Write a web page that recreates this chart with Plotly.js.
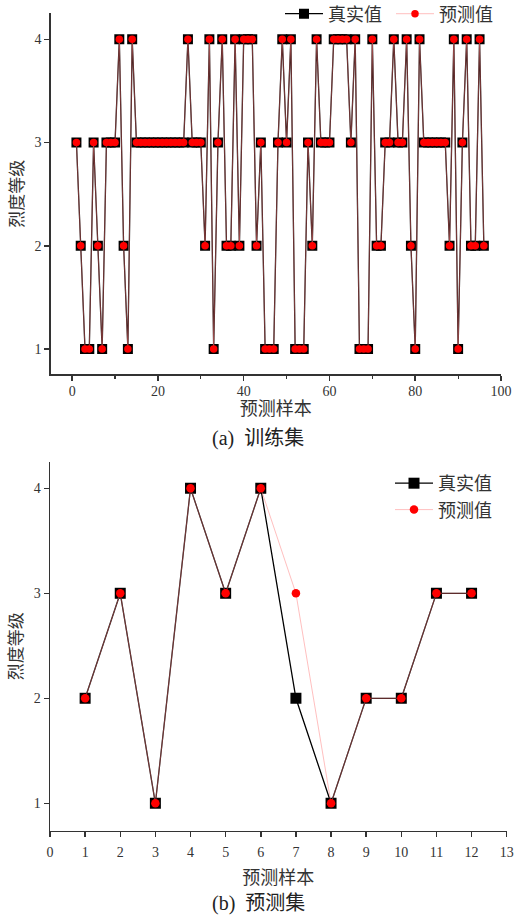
<!DOCTYPE html>
<html>
<head>
<meta charset="utf-8">
<script src="https://cdn.plot.ly/plotly-3.0.1.min.js"></script>
<style>html,body{margin:0;padding:0;background:#fff;}#chart{width:514px;height:915px;}</style>
</head>
<body>
<div id="chart"></div>
<script>
// (a) training set: true values (predictions identical)
const trainTrue = [3,2,1,1,3,2,1,3,3,3,4,2,1,4,3,3,3,3,3,3,3,3,3,3,3,3,4,3,3,3,
  2,4,1,3,4,2,2,4,2,4,4,4,2,3,1,1,1,3,4,3,4,1,1,1,3,2,4,3,3,3,
  4,4,4,4,3,4,1,1,1,4,2,2,3,3,4,3,3,4,2,1,4,3,3,3,3,3,3,2,4,1,
  3,4,2,2,4,2];
const trainPred = trainTrue.slice();
const trainX = trainTrue.map((_, i) => i + 1);

// (b) test set
const testX = [1,2,3,4,5,6,7,8,9,10,11,12];
const testTrue = [2,3,1,4,3,4,2,1,2,2,3,3];
const testPred = [2,3,1,4,3,4,3,1,2,2,3,3];

const nameTrue = '真实值';
const namePred = '预测值';
const xTitle = '预测样本';
const yTitle = '烈度等级';
const capA = '(a)  训练集';
const capB = '(b)  预测集';

const FONT = 'Liberation Serif, "Noto Sans CJK SC", serif';
const TXT = '#333';
const W = 514, H = 915;
const px = v => v / W;
const py = v => 1 - v / H;

const trueStyle = (sz) => ({
  mode: 'lines+markers',
  line: {color: '#000', width: 1.3},
  marker: {symbol: 'square', size: sz, color: '#000'}
});
const predStyle = (sz) => ({
  mode: 'lines+markers',
  line: {color: 'rgba(255,120,120,0.6)', width: 0.8},
  marker: {symbol: 'circle', size: sz, color: '#ff0000'}
});

const traces = [
  Object.assign({x: trainX, y: trainTrue, name: nameTrue, xaxis: 'x', yaxis: 'y', legend: 'legend'}, trueStyle(10)),
  Object.assign({x: trainX, y: trainPred, name: namePred, xaxis: 'x', yaxis: 'y', legend: 'legend'}, predStyle(7.5)),
  Object.assign({x: testX, y: testTrue, name: nameTrue, xaxis: 'x2', yaxis: 'y2', legend: 'legend2'}, trueStyle(11)),
  Object.assign({x: testX, y: testPred, name: namePred, xaxis: 'x2', yaxis: 'y2', legend: 'legend2'}, predStyle(8.5))
];

const axisCommon = {
  showline: true, linecolor: '#333', linewidth: 1.5,
  ticks: 'outside', tickcolor: '#333', tickwidth: 1.5, ticklen: 5,
  showgrid: false, zeroline: false,
  tickfont: {family: FONT, size: 14, color: TXT}
};
const titleFont = {family: FONT, size: 18, color: TXT};
const yTitleFont = {family: FONT, size: 17, color: TXT};

const layout = {
  width: W, height: H,
  margin: {l: 0, r: 0, t: 0, b: 0, autoexpand: false},
  paper_bgcolor: '#fff', plot_bgcolor: 'rgba(0,0,0,0)',
  font: {family: FONT, color: TXT},
  xaxis: Object.assign({}, axisCommon, {
    domain: [px(50.7), px(501)], anchor: 'y',
    range: [-5, 100], tick0: 0, dtick: 20,
    ticklabelstandoff: -2,
    minor: {dtick: 10, ticks: 'outside', ticklen: 3, tickcolor: '#333', tickwidth: 1.2},
    title: {text: xTitle, font: titleFont, standoff: 0}
  }),
  yaxis: Object.assign({}, axisCommon, {
    domain: [py(374.3), py(13)], anchor: 'x',
    range: [0.755, 4.255], tick0: 1, dtick: 1,
    title: {text: yTitle, font: yTitleFont, standoff: 6}
  }),
  xaxis2: Object.assign({}, axisCommon, {
    domain: [px(50), px(506.7)], anchor: 'y2',
    range: [0, 13], tick0: 0, dtick: 1,
    ticklabelstandoff: 3,
    title: {text: xTitle, font: titleFont, standoff: 12}
  }),
  yaxis2: Object.assign({}, axisCommon, {
    domain: [py(830.7), py(461.7)], anchor: 'x2',
    range: [0.739, 4.253], tick0: 1, dtick: 1,
    title: {text: yTitle, font: yTitleFont, standoff: 6}
  }),
  legend: {
    orientation: 'h', x: px(280), y: py(14), xanchor: 'left', yanchor: 'middle',
    bgcolor: 'rgba(0,0,0,0)', font: {family: FONT, size: 18, color: TXT},
    itemwidth: 38, entrywidth: 58, tracegroupgap: 0
  },
  legend2: {
    orientation: 'v', x: px(390), y: py(465), xanchor: 'left', yanchor: 'top',
    bgcolor: 'rgba(0,0,0,0)', font: {family: FONT, size: 18, color: TXT},
    itemwidth: 38, tracegroupgap: 0
  },
  annotations: [
    {text: capA, xref: 'paper', yref: 'paper', x: px(258), y: py(438), showarrow: false,
     xanchor: 'center', yanchor: 'middle', font: {family: FONT, size: 20, color: '#222'}},
    {text: capB, xref: 'paper', yref: 'paper', x: px(258), y: py(903), showarrow: false,
     xanchor: 'center', yanchor: 'middle', font: {family: FONT, size: 20, color: '#222'}}
  ]
};

Plotly.newPlot('chart', traces, layout, {displayModeBar: false, staticPlot: true});
</script>
</body>
</html>
